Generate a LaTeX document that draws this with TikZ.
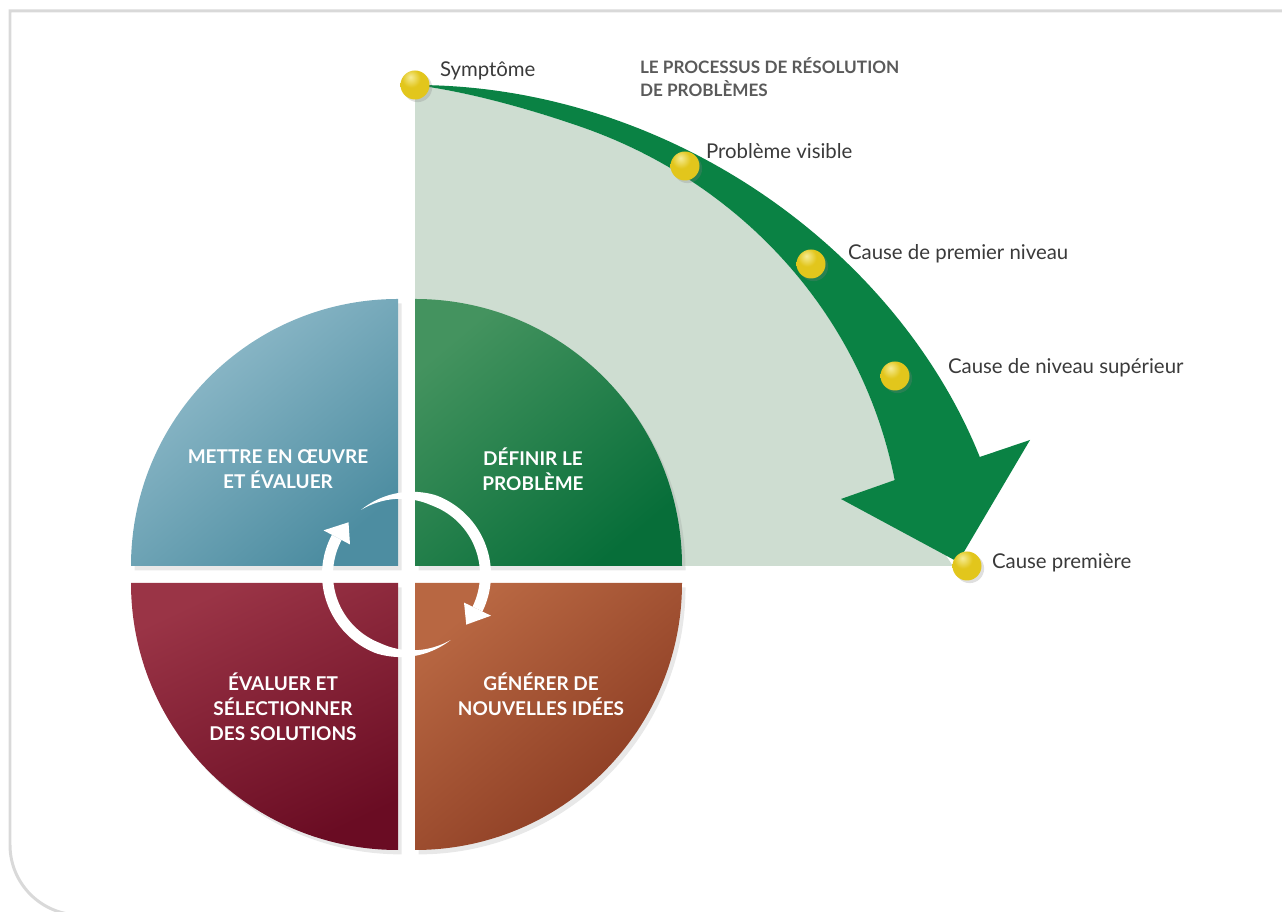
\documentclass[tikz,border=0pt]{standalone}
\usepackage{fontspec}
\setmainfont{Lato}
\usetikzlibrary{positioning}
\usetikzlibrary{shadows}

\definecolor{framegray}{HTML}{D9D9D9}
\definecolor{arrowgreen}{HTML}{0A8244}
\definecolor{palegreen}{HTML}{CEDDD1}
\definecolor{textgray}{HTML}{3A3A3A}
\definecolor{titlegray}{HTML}{5A5A5A}
\definecolor{dotlight}{HTML}{F6EC95}
\definecolor{dotmid}{HTML}{E2C61C}
\definecolor{dotdark}{HTML}{C4A612}
% 四分円の色
\definecolor{actlight}{HTML}{95BECD}
\definecolor{actmain}{HTML}{5A9BAE}
\definecolor{actdark}{HTML}{4D8DA1}
\definecolor{deflight}{HTML}{44935F}
\definecolor{defmain}{HTML}{0B8044}
\definecolor{defdark}{HTML}{076E39}
\definecolor{sellight}{HTML}{9A3446}
\definecolor{selmain}{HTML}{8A1C37}
\definecolor{seldark}{HTML}{6A0C23}
\definecolor{idelight}{HTML}{B86742}
\definecolor{idemain}{HTML}{AE5632}
\definecolor{idedark}{HTML}{873820}

% 黄色の玉のシェーディング
\pgfdeclareradialshading{dotball}{\pgfpoint{-8bp}{14bp}}{%
  color(0bp)=(dotlight); color(16bp)=(dotmid); color(48bp)=(dotmid);
  color(64bp)=(dotdark); color(100bp)=(dotdark)}

\begin{document}
\begin{tikzpicture}
  [
  x=0.02cm, y=0.02cm,
  % 文字の余白
  every node/.style={inner sep=0, outer sep=0},
  % 四分円
  quad/.style={drop shadow={opacity=0.18, shadow xshift=2pt, shadow yshift=-2.5pt}},
  % 四分円の文字
  quadtext/.style={text=white, align=center,
  font=\bfseries\fontsize{10.8}{14.2}\selectfont},
  % 段階のラベル
  stagetext/.style={anchor=base west, text=textgray,
  font=\fontsize{11.6}{13}\selectfont},
  % 黄色の玉
  ball/.style={shading=dotball,
  drop shadow={opacity=0.25, shadow xshift=1.5pt, shadow yshift=-1.5pt}}
  ]
  \useasboundingbox (0,0) rectangle (1282,912);

  % 枠
  \draw [framegray, line width=1.7pt] (1290,901) -- (10,901) -- (10,67)
  arc (180:270:70) -- (1290,-3);

  % 淡い緑の扇形
  \fill [palegreen] (415,346) -- plot[domain=90:10.6, samples=80, variable=\t]
  ({415+488*cos(\t)}, {346+(481-14*sin(min(90,(90-\t)*4.5)))*sin(\t)})
  -- (953,346) -- cycle;

  % 緑の矢印
  \fill [arrowgreen] plot[domain=90:13.1, samples=80, variable=\t]
  ({415+(528+52*((90-\t)/77)*(0.5+0.5*(90-\t)/77))*cos(\t)}, {346+481*sin(\t)})
  -- (1030,472) -- (958,350) -- (841,413)
  -- plot[domain=10.6:90, samples=80, variable=\t]
  ({415+488*cos(\t)}, {346+(481-14*sin(min(90,(90-\t)*4.5)))*sin(\t)}) -- cycle;

  % 四つの段階
  \shade [quad, top color=actlight, middle color=actmain,
  bottom color=actdark, shading angle=40]
  (398,346) -- ++(-267,0) arc (180:90:267) -- cycle;
  \shade [quad, top color=deflight, middle color=defmain,
  bottom color=defdark, shading angle=40]
  (415,346) -- ++(0,267) arc (90:0:267) -- cycle;
  \shade [quad, top color=sellight, middle color=selmain,
  bottom color=seldark, shading angle=25]
  (398,329) -- ++(0,-267) arc (270:180:267) -- cycle;
  \shade [quad, top color=idelight, middle color=idemain,
  bottom color=idedark, shading angle=40]
  (415,329) -- ++(267,0) arc (0:-90:267) -- cycle;

  \node [quadtext] (act) at (278,443) {METTRE EN ŒUVRE\\ET ÉVALUER};
  \node [quadtext] (define) at (533,443) {DÉFINIR LE\\PROBLÈME};
  \node [quadtext] (select) at (283,205) {ÉVALUER ET\\SÉLECTIONNER\\DES SOLUTIONS};
  \node [quadtext] (ideas) at (541,218) {GÉNÉRER DE\\NOUVELLES IDÉES};

  % 循環の矢印
  \fill [white] plot[domain=125:-26, samples=60, variable=\a]
  ({406.5+(79+5.5*min(1,(125-\a)/55))*cos(\a)},
  {337.5+(79+5.5*min(1,(125-\a)/55))*sin(\a)})
  -- plot[domain=-26:125, samples=60, variable=\a]
  ({406.5+(79-5.5*min(1,(125-\a)/55))*cos(\a)},
  {337.5+(79-5.5*min(1,(125-\a)/55))*sin(\a)}) -- cycle;
  \fill [white, shift={(406.5,337.5)}] (-26:94) -- (-40:78) -- (-26:64) -- cycle;
  \fill [white] plot[domain=-56:-208, samples=60, variable=\a]
  ({406.5+(79+5.5*min(1,(-56-\a)/55))*cos(\a)},
  {337.5+(79+5.5*min(1,(-56-\a)/55))*sin(\a)})
  -- plot[domain=-208:-56, samples=60, variable=\a]
  ({406.5+(79-5.5*min(1,(-56-\a)/55))*cos(\a)},
  {337.5+(79-5.5*min(1,(-56-\a)/55))*sin(\a)}) -- cycle;
  \fill [white, shift={(406.5,337.5)}] (-208:94) -- (-222:78) -- (-208:64) -- cycle;

  % 玉とラベル
  \coordinate (symptom) at (415,827);
  \coordinate (visible) at (685,746);
  \coordinate (first) at (811,648);
  \coordinate (higher) at (895,536);
  \coordinate (root) at (967,346);
  \foreach \p in {symptom, visible, first, higher, root}
  \shade [ball] (\p) circle (14.5);

  \node [stagetext] (symptomtext) at (440,835) {Symptôme};
  \node [stagetext] (visibletext) at (706,753) {Problème visible};
  \node [stagetext] (firsttext) at (848,652) {Cause de premier niveau};
  \node [stagetext] (highertext) at (948,538) {Cause de niveau supérieur};
  \node [stagetext] (roottext) at (992,343) {Cause première};

  % 題名
  \node [anchor=base west, align=left, text=titlegray,
  font=\bfseries\fontsize{9.75}{13}\selectfont] (title) at (640,815.5)
  {LE PROCESSUS DE RÉSOLUTION\\DE PROBLÈMES};
\end{tikzpicture}
\end{document}
